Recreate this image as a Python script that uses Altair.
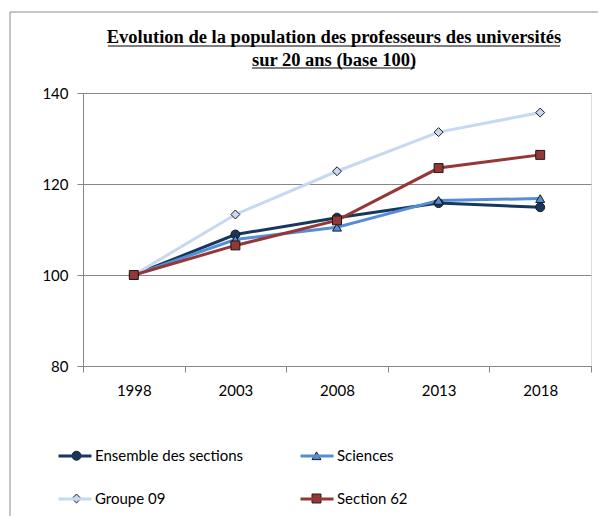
import altair as alt
import pandas as pd

years = ["1998", "2003", "2008", "2013", "2018"]
series_names = ["Ensemble des sections", "Sciences", "Groupe 09", "Section 62"]
ensemble = [100, 108.9, 112.6, 115.8, 114.9]
sciences = [100, 107.8, 110.5, 116.4, 116.8]
groupe09 = [100, 113.3, 122.8, 131.4, 135.7]
section62 = [100, 106.5, 112.0, 123.5, 126.4]
colors = ["#17375e", "#558ed5", "#c6d9f1", "#953735"]
shapes = ["circle", "triangle-up", "diamond", "square"]

rows = []
for i, (name, vals) in enumerate(zip(series_names, [ensemble, sciences, groupe09, section62])):
    for y, v in zip(years, vals):
        rows.append({"year": y, "value": v, "series": name, "series_p": name, "idx": i})
df = pd.DataFrame(rows)

FONT = "Lato"

x_enc = alt.X("year:O", scale=alt.Scale(type="band", domain=years, paddingInner=0, paddingOuter=0),
              axis=alt.Axis(title=None, labelAngle=0, tickBand="extent", domainColor="#868686",
                            tickColor="#868686", tickSize=6, labelPadding=11, labelFont=FONT,
                            labelFontSize=15, labelColor="#000000", grid=False))
y_enc = alt.Y("value:Q", scale=alt.Scale(domain=[80, 140], nice=False),
              axis=alt.Axis(title=None, values=[80, 100, 120, 140], domainColor="#868686",
                            tickColor="#868686", tickSize=6, labelPadding=9, labelFont=FONT,
                            labelFontSize=15, labelColor="#000000", grid=True, gridColor="#868686",
                            gridWidth=1))

lines = alt.Chart(df).mark_line(strokeWidth=3).encode(
    x=x_enc, y=y_enc,
    color=alt.Color("series:N", scale=alt.Scale(domain=series_names, range=colors),
                    legend=alt.Legend(title=None, orient="none", legendX=-26, legendY=345,
                                      direction="horizontal", columns=2, columnPadding=50,
                                      rowPadding=17,
                                      symbolType="stroke", symbolSize=1089, symbolStrokeWidth=3,
                                      labelFont=FONT, labelFontSize=15, labelColor="#000000",
                                      labelOffset=2)),
    detail="idx:Q",
)

points = alt.Chart(df).mark_point(filled=True, stroke="#1a1a1a", strokeWidth=1, size=80, opacity=1).encode(
    x=x_enc, y=y_enc,
    fill=alt.Fill("series_p:N", scale=alt.Scale(domain=series_names, range=colors),
                  legend=alt.Legend(title=None, orient="none", legendX=-14, legendY=355,
                                    direction="horizontal", columns=2, columnPadding=211,
                                    rowPadding=27,
                                    symbolSize=80, symbolStrokeColor="#1a1a1a", symbolStrokeWidth=1,
                                    labelFont=FONT, labelFontSize=15, labelColor="#000000",
                                    labelExpr="''", labelOffset=14)),
    shape=alt.Shape("series_p:N", scale=alt.Scale(domain=series_names, range=shapes)),
)

frame = alt.Chart(alt.Data(values=[{}])).mark_rect(fillOpacity=0, stroke="#8c8c8c", strokeWidth=1).encode(
    x=alt.value(-73), x2=alt.value(560), y=alt.value(-81), y2=alt.value(480))

underline = alt.Chart(alt.Data(values=[{"x": 25, "x2": 477, "y": -47}, {"x": 169, "x2": 332, "y": -25}])).mark_rule(
    color="#000000", strokeWidth=1).encode(
    x=alt.X("x:Q", scale=None), x2="x2:Q", y=alt.Y("y:Q", scale=None))

chart = alt.layer(frame, underline, lines, points).resolve_scale(
    color="independent"
).properties(
    width=508, height=273,
    title=alt.TitleParams(
        text=["Evolution de la population des professeurs des universités", "sur 20 ans (base 100)"],
        font="Liberation Serif", fontSize=18.5, fontWeight="bold", color="#000000",
        anchor="middle", frame="group", offset=-58, lineHeight=23, dx=-3),
    autosize=alt.AutoSizeParams(type="none"),
    padding={"left": 75, "top": 85, "right": 7, "bottom": 150},
).configure_view(stroke=None).configure(background="#ffffff")

chart.save("out.html", embed_options={"renderer": "svg", "actions": False})
